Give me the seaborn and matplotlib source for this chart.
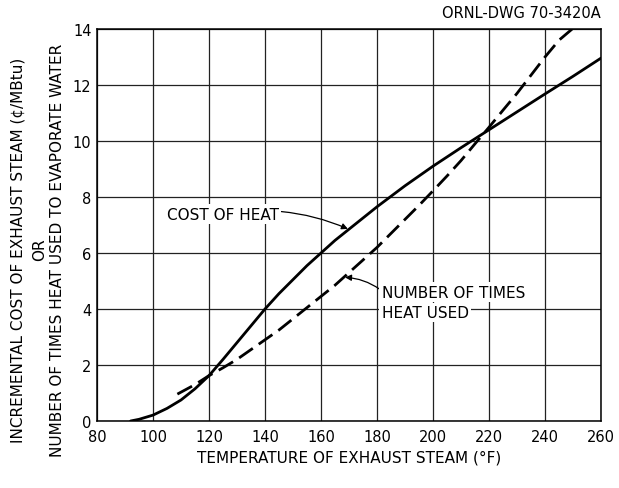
import matplotlib
matplotlib.use("Agg")
import matplotlib.pyplot as plt
import seaborn as sns
import pandas as pd

# ---- data ----
cost_temp = [92, 95, 100, 105, 110, 115, 120, 125, 130, 135, 140, 145, 150, 155, 160, 165,
             170, 175, 180, 190, 200, 210, 220, 230, 240, 250, 260]
cost_val = [0.0, 0.06, 0.21, 0.45, 0.75, 1.15, 1.62, 2.2, 2.8, 3.4, 4.0, 4.55, 5.05, 5.55,
            6.0, 6.45, 6.85, 7.25, 7.65, 8.4, 9.1, 9.76, 10.4, 11.04, 11.68, 12.31, 12.96]

times_temp = [108.7, 115, 120, 125, 130, 135, 140, 145, 150, 155, 160, 165, 170, 175, 180,
              185, 190, 195, 200, 205, 210, 215, 220, 225, 230, 235, 240, 245, 249.7]
times_val = [0.96, 1.3, 1.62, 1.9, 2.2, 2.55, 2.9, 3.25, 3.65, 4.05, 4.45, 4.85, 5.3, 5.75,
             6.2, 6.7, 7.2, 7.7, 8.22, 8.75, 9.3, 9.9, 10.49, 11.1, 11.7, 12.35, 13.0, 13.6, 14.0]

x_ticks = [80, 100, 120, 140, 160, 180, 200, 220, 240, 260]
y_ticks = [0, 2, 4, 6, 8, 10, 12, 14]

sns.set_theme(style="white")
plt.rcParams['font.family'] = ['DejaVu Sans']

W, H = 619, 489
fig = plt.figure(figsize=(W / 100, H / 100), dpi=100)
ax = fig.add_axes([97 / W, 1 - 422 / H, (601 - 97) / W, (422 - 30) / H])

cost_df = pd.DataFrame({"temp": cost_temp, "value": cost_val})
times_df = pd.DataFrame({"temp": times_temp, "value": times_val})

sns.lineplot(data=cost_df, x="temp", y="value", ax=ax, color="black", lw=2.0,
             sort=False, zorder=4)
sns.lineplot(data=times_df, x="temp", y="value", ax=ax, color="black", lw=2.0,
             sort=False, zorder=4, dashes=False, linestyle=(0, (6, 2.6)))

ax.set_xlim(80, 260)
ax.set_ylim(0, 14)
ax.set_xticks(x_ticks)
ax.set_yticks(y_ticks)
ax.grid(True, color="#222222", lw=0.9)
ax.set_axisbelow(True)
for s in ax.spines.values():
    s.set_color("black")
    s.set_linewidth(1.1)
ax.tick_params(axis="both", length=0, labelsize=10.5, colors="black")
ax.tick_params(axis="x", pad=6)
ax.tick_params(axis="y", pad=4)
ax.set_xlabel("TEMPERATURE OF EXHAUST STEAM (°F)", fontsize=11, color="black", labelpad=4)
ax.set_ylabel("")

bb = dict(boxstyle="square,pad=0.15", fc="white", ec="none")
ax.annotate("COST OF HEAT", xy=(169.6, 6.86), xytext=(105, 7.39),
            ha="left", va="center", fontsize=11, color="black", bbox=bb, zorder=5,
            arrowprops=dict(arrowstyle="-|>", color="black", lw=0.9,
                            connectionstyle="arc3,rad=-0.15", shrinkA=0, shrinkB=0,
                            mutation_scale=9))
ax.annotate("NUMBER OF TIMES", xy=(168.6, 5.13), xytext=(181.7, 4.6),
            ha="left", va="center", fontsize=11, color="black", bbox=bb, zorder=5,
            arrowprops=dict(arrowstyle="-|>", color="black", lw=0.9,
                            connectionstyle="arc3,rad=0.15", shrinkA=0, shrinkB=0,
                            mutation_scale=9, relpos=(0, 0.6)))
ax.text(181.7, 3.87, "HEAT USED", ha="left", va="center", fontsize=11, color="black",
        bbox=bb, zorder=5)

fig.text(601 / W, 1 - 14 / H, "ORNL-DWG 70-3420A", ha="right", va="center",
         fontsize=10.5, color="black")

yc = 1 - 250 / H
fig.text(18.3 / W, yc, "INCREMENTAL COST OF EXHAUST STEAM (¢/MBtu)", rotation=90,
         ha="center", va="center", fontsize=11, color="black")
fig.text(40 / W, yc, "OR", rotation=90, ha="center", va="center", fontsize=11, color="black")
fig.text(57.3 / W, yc, "NUMBER OF TIMES HEAT USED TO EVAPORATE WATER", rotation=90,
         ha="center", va="center", fontsize=11, color="black")

fig.savefig("out.png", dpi=100, facecolor="white")
